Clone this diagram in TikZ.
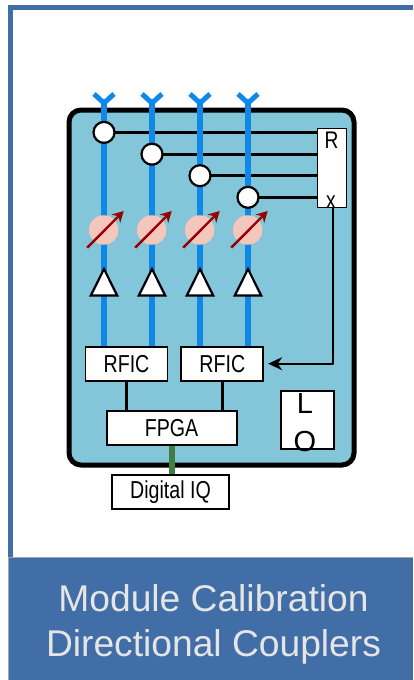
\documentclass[tikz,border=0pt]{standalone}
\usepackage{fontspec}
\setmainfont{Liberation Sans}
\usetikzlibrary{arrows.meta}
\definecolor{frameblue}{HTML}{426EA8}
\definecolor{modfill}{HTML}{83C5D9}
\definecolor{rfblue}{HTML}{1088E8}
\definecolor{psfill}{HTML}{F4C7BC}
\definecolor{psred}{HTML}{9A0000}
\definecolor{dgreen}{HTML}{3F7F3F}
\newcommand{\narrowtext}[1]{\scalebox{.8}[1]{#1}}
\tikzset{
  x=1pt,y=-1pt,
  wbox/.style={draw=black,fill=white,line width=1.8pt,inner sep=0pt,font=\fontsize{24.5}{24.5}\selectfont},
  coupler/.style={circle,draw=black,fill=white,line width=2.2pt,minimum size=21pt,inner sep=0pt},
  shifter/.style={circle,fill=psfill,minimum size=29.5pt,inner sep=0pt},
  rfline/.style={rfblue,line width=6pt},
  antenna/.style={rfblue,line width=5pt,miter limit=10},
  tap/.style={black,line width=2.6pt},
  amp/.style={draw=black,fill=white,line width=2.2pt,line join=miter},
  tune/.style={psred,line width=2.4pt,-{Stealth[length=11pt,width=12pt]}},
  bus/.style={black,line width=2.6pt}
}
\begin{document}
\begin{tikzpicture}
\useasboundingbox (0,0) rectangle (413,680);
\fill[white] (0,0) rectangle (413,680);
% outer frame
\fill[frameblue] (8,5) rectangle (413,10);
\fill[frameblue] (8,5) rectangle (13,557);
% title band
\fill[frameblue] (8,557) rectangle (413,680);
\draw[gray!70,line width=1.5pt] (8.5,680) -- (8.5,557.5) -- (413,557.5);
\node[text=black!10,align=center,inner sep=0pt,anchor=base] (title1) at (213.5,611.7) {\fontsize{37.2}{44}\selectfont Module Calibration};
\node[text=black!10,align=center,inner sep=0pt,anchor=base] (title2) at (213.5,656) {\fontsize{37.2}{44}\selectfont Directional Couplers};
% module
\draw[black,fill=modfill,line width=5pt,rounded corners=12pt] (69,110) rectangle (354,465);
% boxes
\node[wbox,minimum width=82pt,minimum height=34pt] (rfic1) at (126.5,363.7) {\narrowtext{RFIC}};
\node[wbox,minimum width=82pt,minimum height=34pt] (rfic2) at (222.3,363.7) {\narrowtext{RFIC}};
\node[wbox,minimum width=130pt,minimum height=34pt] (fpga) at (171.6,428) {\narrowtext{FPGA}};
\node[wbox,minimum width=117pt,minimum height=34pt] (dig) at (170.5,492) {\narrowtext{Digital IQ}};
\node[draw=black,fill=white,line width=1.8pt,minimum width=53pt,minimum height=58pt,inner sep=0pt] (lobox) at (307.8,420.3) {};
\node[inner sep=0pt,anchor=base,font=\fontsize{29}{37}\selectfont] (lol) at (305,413) {L};
\node[inner sep=0pt,anchor=base,font=\fontsize{29}{37}\selectfont] (loo) at (305,451) {O};
\node[draw=black,fill=white,line width=1.8pt,minimum width=29pt,minimum height=79pt,inner sep=0pt] (rx) at (332,168) {};
\node[inner sep=0pt,anchor=base,font=\fontsize{24}{24}\selectfont] (rxr) at (331.5,148) {\narrowtext{R}};
\node[inner sep=0pt,anchor=base,font=\fontsize{24}{24}\selectfont] (rxx) at (331,208) {\narrowtext{x}};
% RF chains
\foreach \i/\px/\cy/\rf in {1/104/132.4/rfic1,2/152/154.2/rfic1,3/200/175.7/rfic2,4/248/197.3/rfic2}{
  \coordinate (ant\i) at (\px,103);
  \coordinate (antl\i) at (\px-10,94);
  \coordinate (antr\i) at (\px+10,94);
  \draw[rfline] (ant\i) -- (ant\i |- \rf.north);
  \draw[antenna] (antl\i) -- (ant\i) -- (antr\i);
  \draw[tap] (\px,\cy) -- (\px,\cy -| rx.west);
  \node[coupler] (c\i) at (\px,\cy) {};
  \node[shifter] (ps\i) at (\px-.3,230) {};
  \draw[tune] ([shift={(-16.5,17.7)}]ps\i.center) -- ([shift={(20,-19)}]ps\i.center);
  \draw[amp] (\px,269) -- (\px+13.2,295.5) -- (\px-13.2,295.5) -- cycle;
}
% connectors
\draw[bus] (rfic1.south) -- (rfic1.south |- fpga.north);
\draw[bus] (rfic2.south) -- (rfic2.south |- fpga.north);
\draw[dgreen,line width=6pt] (fpga.south) -- (fpga.south |- dig.north);
\coordinate (rxout) at (333,208);
\draw[black,line width=1.7pt,line join=round,-{Stealth[length=14pt,width=13pt]}] (rxout) -- (rxout |- rfic2.east) -- ([xshift=4pt]rfic2.east);
\end{tikzpicture}
\end{document}
